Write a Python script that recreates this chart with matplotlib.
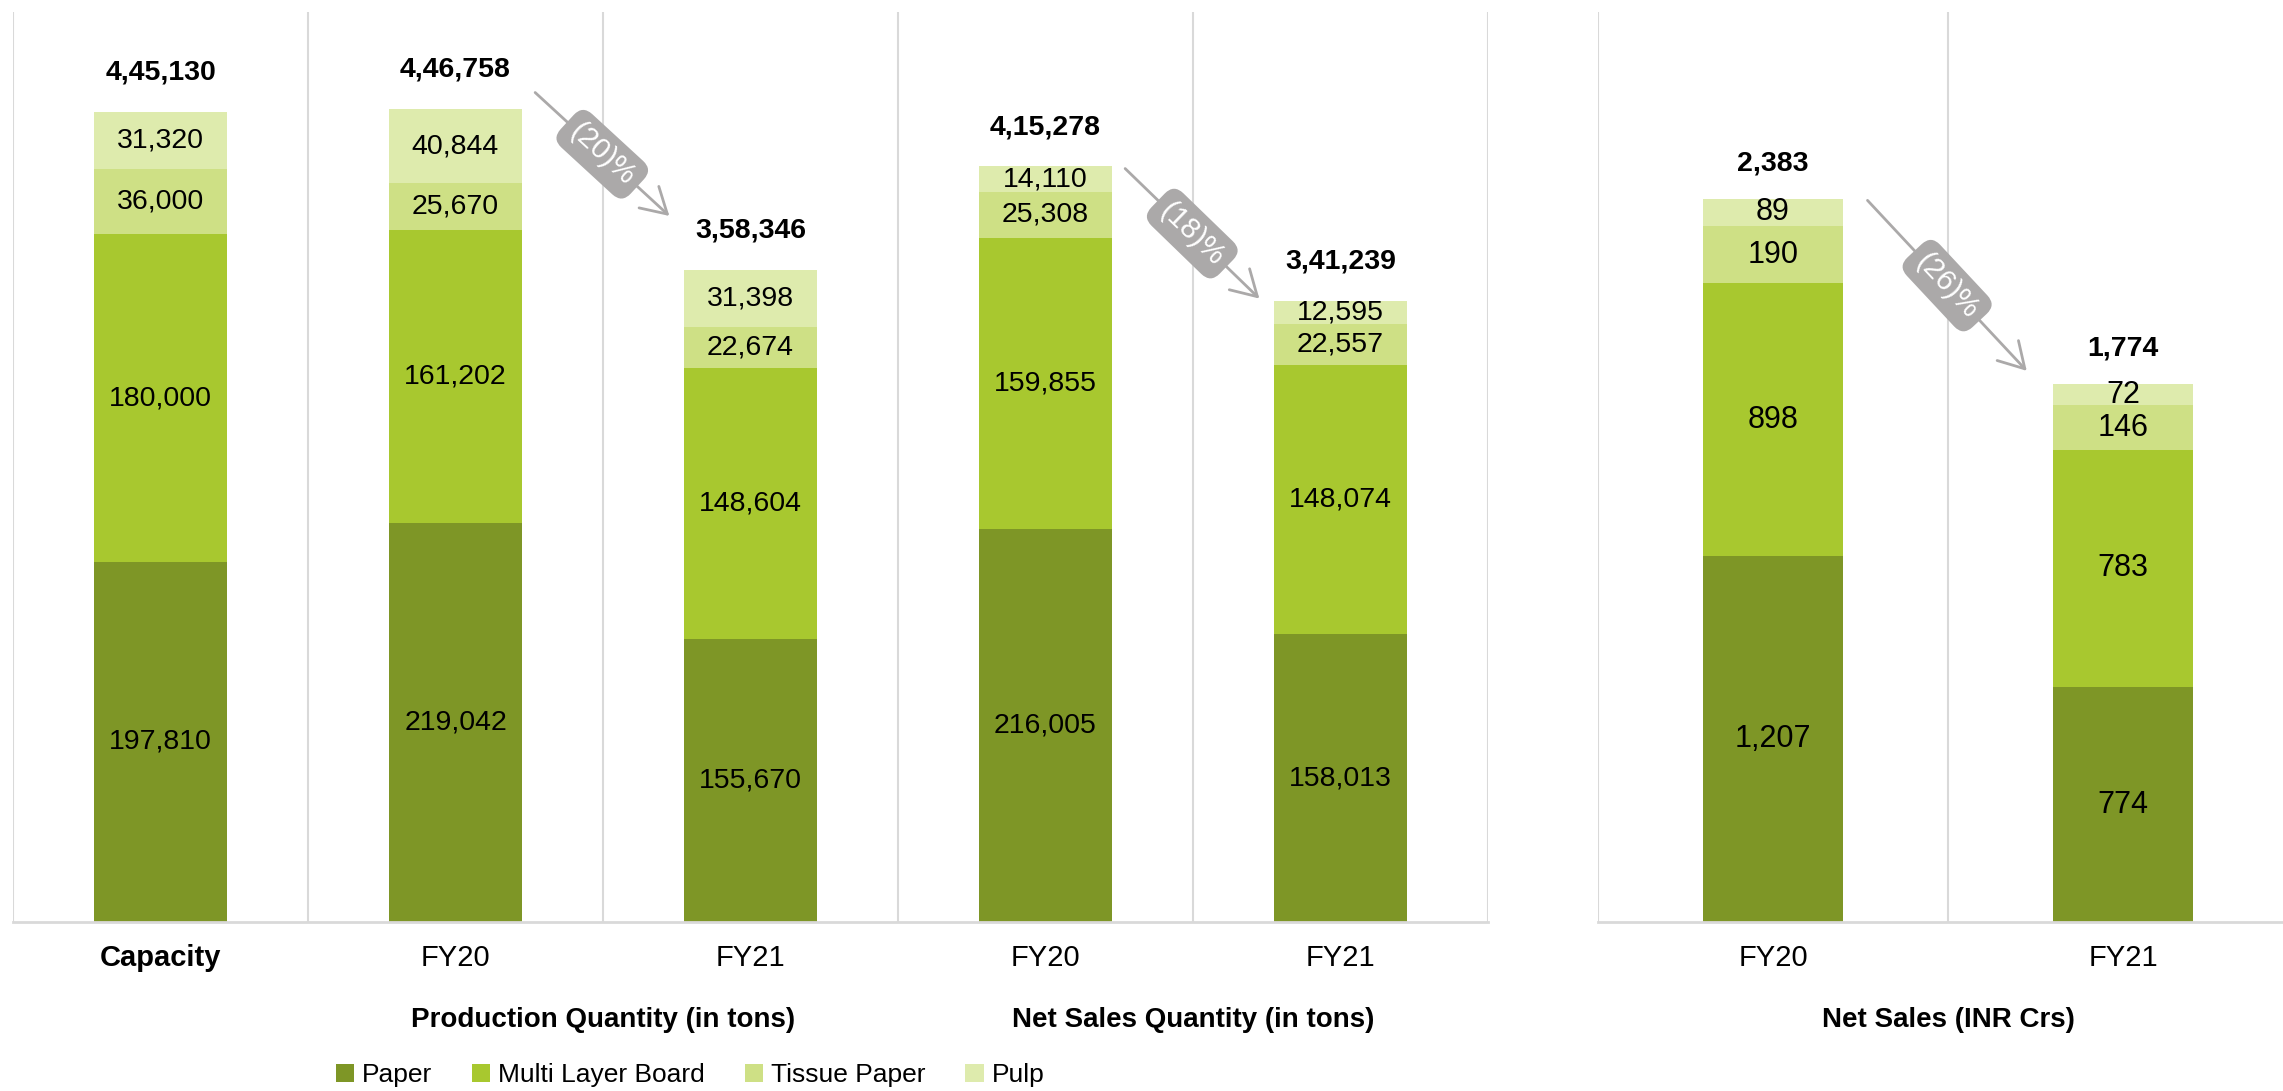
import math

import matplotlib
matplotlib.use("Agg")
import matplotlib.pyplot as plt
from matplotlib.patches import Patch

plt.rcParams["font.family"] = ["Liberation Sans", "DejaVu Sans"]

# data
series = ["Paper", "Multi Layer Board", "Tissue Paper", "Pulp"]
colors = ["#7E9626", "#A8C82F", "#CEE085", "#DEEBAD"]

qty_labels = ["Capacity", "FY20", "FY21", "FY20", "FY21"]
qty_paper = [197810, 219042, 155670, 216005, 158013]
qty_board = [180000, 161202, 148604, 159855, 148074]
qty_tissue = [36000, 25670, 22674, 25308, 22557]
qty_pulp = [31320, 40844, 31398, 14110, 12595]
qty_totals = [445130, 446758, 358346, 415278, 341239]

sales_labels = ["FY20", "FY21"]
sales_paper = [1207, 774]
sales_board = [898, 783]
sales_tissue = [190, 146]
sales_pulp = [89, 72]
sales_totals = [2383, 1774]

# (from bar, to bar, text, y offset at start, y offset at end)
qty_arrows = [(1, 2, "(20)%", 9000, 29600), (3, 4, "(18)%", -1300, 1300)]
sales_arrows = [(0, 1, "(26)%", -4, 43)]

GRID = "#D9D9D9"
BADGE = "#ABA9A9"


def indian(n):
    s = str(n)
    if len(s) <= 3:
        return s
    head, tail = s[:-3], s[-3:]
    groups = []
    while len(head) > 2:
        groups.insert(0, head[-2:])
        head = head[:-2]
    if head:
        groups.insert(0, head)
    return ",".join(groups + [tail])


def draw_panel(ax, labels, stacks, totals, width, seg_size, tot_size, tot_pad):
    x = list(range(len(labels)))
    bottom = [0] * len(labels)
    for vals, col in zip(stacks, colors):
        ax.bar(x, vals, width, bottom=bottom, color=col, edgecolor="none", zorder=2)
        for xi, b, v in zip(x, bottom, vals):
            ax.text(xi, b + v / 2, f"{v:,}", ha="center", va="center",
                    fontsize=seg_size, color="black", zorder=3)
        bottom = [b + v for b, v in zip(bottom, vals)]
    ylim = ax.get_ylim()[1]
    for xi, t in zip(x, totals):
        ax.text(xi, t + ylim * tot_pad, indian(t), ha="center", va="center",
                fontsize=tot_size, fontweight="bold", color="black", zorder=3)

    ax.set_xticks(x)
    ax.set_xticklabels(labels, fontsize=21)
    ax.tick_params(axis="x", length=0, pad=16)
    ax.set_yticks([])
    for sp in ["top", "right", "left"]:
        ax.spines[sp].set_visible(False)
    ax.spines["bottom"].set_color(GRID)
    ax.spines["bottom"].set_linewidth(2)
    lo, hi = ax.get_xlim()
    b = -0.5
    while b <= hi + 1e-6:
        ax.axvline(b, color=GRID, lw=1.5, zorder=1)
        b += 1


def draw_arrow(ax, i, j, text, dy0, dy1, totals):
    start = (i + 0.27, totals[i] + dy0)
    end = (j - 0.275, totals[j] + dy1)
    ax.annotate("", xy=end, xytext=start,
                arrowprops=dict(arrowstyle="->,head_length=0.6,head_width=0.35",
                                color=BADGE, lw=2, mutation_scale=30,
                                shrinkA=0, shrinkB=0), zorder=4)
    p0 = ax.transData.transform(start)
    p1 = ax.transData.transform(end)
    ang = math.degrees(math.atan2(p1[1] - p0[1], p1[0] - p0[0]))
    mid = ((start[0] + end[0]) / 2, (start[1] + end[1]) / 2)
    ax.text(mid[0], mid[1], text, rotation=ang, rotation_mode="anchor",
            ha="center", va="center", fontsize=21, color="white", zorder=5,
            bbox=dict(boxstyle="round,pad=0.3,rounding_size=0.45", fc=BADGE, ec="none"))


W, H = 2283, 1091
fig = plt.figure(figsize=(W / 100, H / 100), dpi=100)
fig.patch.set_facecolor("white")

ax1 = fig.add_axes([13 / W, (H - 922) / H, 1475 / W, 910 / H])
ax1.set_xlim(-0.5, 4.5)
ax1.set_ylim(0, 500000)
draw_panel(ax1, qty_labels, [qty_paper, qty_board, qty_tissue, qty_pulp],
           qty_totals, 0.45, 20.5, 20.5, 0.043)
ax1.get_xticklabels()[0].set_fontweight("bold")
for a in qty_arrows:
    draw_arrow(ax1, *a, qty_totals)

ax2 = fig.add_axes([1598 / W, (H - 922) / H, 685 / W, 910 / H])
ax2.set_xlim(-0.5, -0.5 + 685 / 350)
ax2.set_ylim(0, 3000)
draw_panel(ax2, sales_labels, [sales_paper, sales_board, sales_tissue, sales_pulp],
           sales_totals, 0.4, 22, 20.5, 0.039)
for a in sales_arrows:
    draw_arrow(ax2, *a, sales_totals)

# group titles under the tick labels
gy = -(1020 - 922) / 910
ax1.text(1.5, gy, "Production Quantity (in tons)", transform=ax1.get_xaxis_transform(),
         ha="center", va="center", fontsize=20, fontweight="bold")
ax1.text(3.5, gy, "Net Sales Quantity (in tons)", transform=ax1.get_xaxis_transform(),
         ha="center", va="center", fontsize=20, fontweight="bold")
ax2.text(0.5, gy, "Net Sales (INR Crs)", transform=ax2.get_xaxis_transform(),
         ha="center", va="center", fontsize=20, fontweight="bold")

handles = [Patch(facecolor=c, edgecolor="none") for c in colors]
fig.legend(handles, series, loc="center", bbox_to_anchor=(690 / W, 1 - 1075 / H),
           ncol=4, frameon=False, fontsize=19, handlelength=0.7, handleheight=0.7,
           handletextpad=0.3, columnspacing=1.5)

fig.savefig("out.png", dpi=100, facecolor="white")
plt.close(fig)
